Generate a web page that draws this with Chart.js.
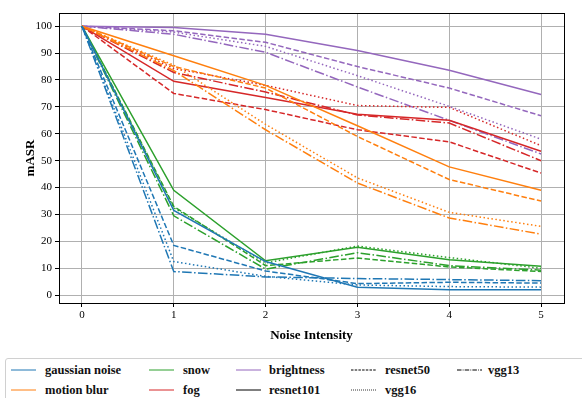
<!DOCTYPE html>
<html>
<head>
<meta charset="utf-8">
<script src="https://cdn.jsdelivr.net/npm/chart.js@4.4.1/dist/chart.umd.min.js"></script>
<style>
  html, body { margin: 0; padding: 0; background: #fff; overflow: hidden; }
  #wrap { position: relative; width: 582px; height: 398px; }
  #legend {
    position: absolute; left: 5px; top: 358px; width: 610px; height: 48px;
    border: 1px solid #d0d0d0; border-radius: 3px; background: #fff;
    font-family: "Liberation Serif", "DejaVu Serif", serif; font-weight: bold; font-size: 12.5px; color: #111;
  }
  .item { position: absolute; height: 16px; line-height: 16px; white-space: nowrap; }
  .item svg { position: absolute; left: 0; top: 2px; }
  .item span { position: absolute; }
</style>
</head>
<body>
<div id="wrap">
  <canvas id="chart"></canvas>
  <div id="legend"></div>
</div>
<script>
/* Attack success rate vs noise intensity, 5 corruptions x 4 models */

const intensities = [0, 1, 2, 3, 4, 5];

// gaussian noise
const gaussianResnet101 = [100, 31.5, 12.5, 3.0, 2.0, 2.0];
const gaussianResnet50  = [100, 18.5, 9.0, 4.3, 4.8, 4.5];
const gaussianVgg16     = [100, 12.5, 7.0, 3.8, 3.2, 3.0];
const gaussianVgg13     = [100, 8.8, 6.8, 6.2, 5.8, 5.4];

// motion blur
const motionResnet101 = [100, 89.0, 78.0, 63.0, 47.7, 39.0];
const motionResnet50  = [100, 85.0, 77.0, 59.0, 43.0, 35.0];
const motionVgg16     = [100, 85.5, 63.5, 43.6, 30.8, 25.6];
const motionVgg13     = [100, 83.5, 61.5, 41.7, 28.7, 22.7];

// snow
const snowResnet101 = [100, 39.0, 12.8, 17.8, 13.2, 10.8];
const snowResnet50  = [100, 33.0, 11.0, 13.8, 10.5, 8.8];
const snowVgg16     = [100, 32.5, 12.0, 18.3, 14.0, 10.0];
const snowVgg13     = [100, 29.5, 9.7, 15.8, 11.0, 9.3];

// fog
const fogResnet101 = [100, 79.5, 73.5, 67.3, 65.0, 53.5];
const fogResnet50  = [100, 75.0, 69.0, 61.5, 57.0, 45.4];
const fogVgg16     = [100, 84.3, 78.0, 70.5, 69.8, 55.6];
const fogVgg13     = [100, 82.8, 75.5, 67.0, 64.0, 50.0];

// brightness
const brightResnet101 = [100, 99.5, 97.0, 91.0, 83.6, 74.6];
const brightResnet50  = [100, 98.3, 94.0, 85.0, 77.0, 66.7];
const brightVgg16     = [100, 97.8, 92.5, 81.6, 70.2, 58.0];
const brightVgg13     = [100, 97.0, 90.3, 77.4, 65.0, 52.5];

const noiseNames = ["gaussian noise", "motion blur", "snow", "fog", "brightness"];
const modelNames = ["resnet101", "resnet50", "vgg16", "vgg13"];
const yTicks = [0, 10, 20, 30, 40, 50, 60, 70, 80, 90, 100];

const COLORS = ["#1f77b4", "#ff7f0e", "#2ca02c", "#d62728", "#9467bd"];
const DASHES = [[], [5.5, 2.4], [1.5, 2.5], [9.6, 2.4, 1.5, 2.4]];
const FONT = "'Liberation Serif', 'DejaVu Serif', serif";

const series = [
  [gaussianResnet101, gaussianResnet50, gaussianVgg16, gaussianVgg13],
  [motionResnet101, motionResnet50, motionVgg16, motionVgg13],
  [snowResnet101, snowResnet50, snowVgg16, snowVgg13],
  [fogResnet101, fogResnet50, fogVgg16, fogVgg13],
  [brightResnet101, brightResnet50, brightVgg16, brightVgg13]
];

const datasets = [];
series.forEach((group, n) => {
  group.forEach((vals, m) => {
    datasets.push({
      label: noiseNames[n] + " / " + modelNames[m],
      data: intensities.map((x, i) => ({ x: x, y: vals[i] })),
      borderColor: COLORS[n],
      borderWidth: 1.5,
      borderDash: DASHES[m],
      pointRadius: 0,
      fill: false,
      tension: 0
    });
  });
});

/* black frame on all four sides like matplotlib spines */
const frame = {
  id: "frame",
  afterDraw(chart) {
    const { ctx, chartArea: a } = chart;
    ctx.save();
    ctx.strokeStyle = "#000";
    ctx.lineWidth = 1;
    ctx.strokeRect(Math.round(a.left) + 0.5, Math.round(a.top) + 0.5,
                   Math.round(a.right - a.left), Math.round(a.bottom - a.top));
    ctx.restore();
  }
};

new Chart(document.getElementById("chart"), {
  type: "line",
  data: { datasets: datasets },
  options: {
    responsive: true,
    maintainAspectRatio: false,
    animation: false,
    layout: { padding: { left: 0, right: 18, top: 13, bottom: 0 } },
    plugins: { legend: { display: false }, tooltip: { enabled: false } },
    scales: {
      x: {
        type: "linear",
        min: -0.25,
        max: 5.25,
        afterFit(s) { s.height = 95; },
        ticks: {
          stepSize: 1,
          includeBounds: false,
          color: "#000",
          padding: 2,
          font: { family: FONT, size: 11 }
        },
        grid: { color: "#b0b0b0", lineWidth: 1, tickLength: 4, tickColor: "#000" },
        border: { display: false },
        title: {
          display: true,
          text: "Noise Intensity",
          color: "#000",
          font: { family: FONT, size: 13, weight: "bold" },
          padding: { top: 0, bottom: 55 }
        }
      },
      y: {
        min: -2.9,
        max: 104.9,
        afterFit(s) { s.width = 59; },
        ticks: {
          stepSize: 5,
          includeBounds: false,
          color: "#000",
          padding: 3,
          font: { family: FONT, size: 11 },
          callback: (v) => yTicks.includes(v) ? String(v) : ""
        },
        grid: { color: "#b0b0b0", lineWidth: 1, tickLength: 4, tickColor: "#000" },
        border: { display: false },
        title: {
          display: true,
          text: "mASR",
          color: "#000",
          font: { family: FONT, size: 13, weight: "bold" },
          padding: { top: 23, bottom: 0 }
        }
      }
    }
  },
  plugins: [frame]
});

/* legend: five columns, filled column by column */
const legendEntries = [
  { text: "gaussian noise", color: COLORS[0], dash: [] },
  { text: "motion blur",    color: COLORS[1], dash: [] },
  { text: "snow",           color: COLORS[2], dash: [] },
  { text: "fog",            color: COLORS[3], dash: [] },
  { text: "brightness",     color: COLORS[4], dash: [] },
  { text: "resnet101",      color: "#000",    dash: [] },
  { text: "resnet50",       color: "#000",    dash: [2.5, 1.2] },
  { text: "vgg16",          color: "#000",    dash: [0.8, 1.2] },
  { text: "vgg13",          color: "#000",    dash: [4.5, 1.2, 0.8, 1.2] }
];
const colX = [5, 143, 230, 345, 451];   // relative to legend box
const textOff = [34, 34, 33, 34, 31];
const rowY = [3, 23];

const legend = document.getElementById("legend");
legendEntries.forEach((e, i) => {
  const col = Math.floor(i / 2), row = i % 2;
  const div = document.createElement("div");
  div.className = "item";
  div.style.left = colX[col] + "px";
  div.style.top = rowY[row] + "px";
  const svg = '<svg width="26" height="12"><line x1="0" y1="6" x2="25" y2="6" stroke="' + e.color +
    '" stroke-width="1" stroke-dasharray="' + (e.dash.length ? e.dash.join(",") : "none") + '"/></svg>';
  div.innerHTML = svg + '<span style="left:' + textOff[col] + 'px">' + e.text + '</span>';
  legend.appendChild(div);
});
</script>
</body>
</html>
